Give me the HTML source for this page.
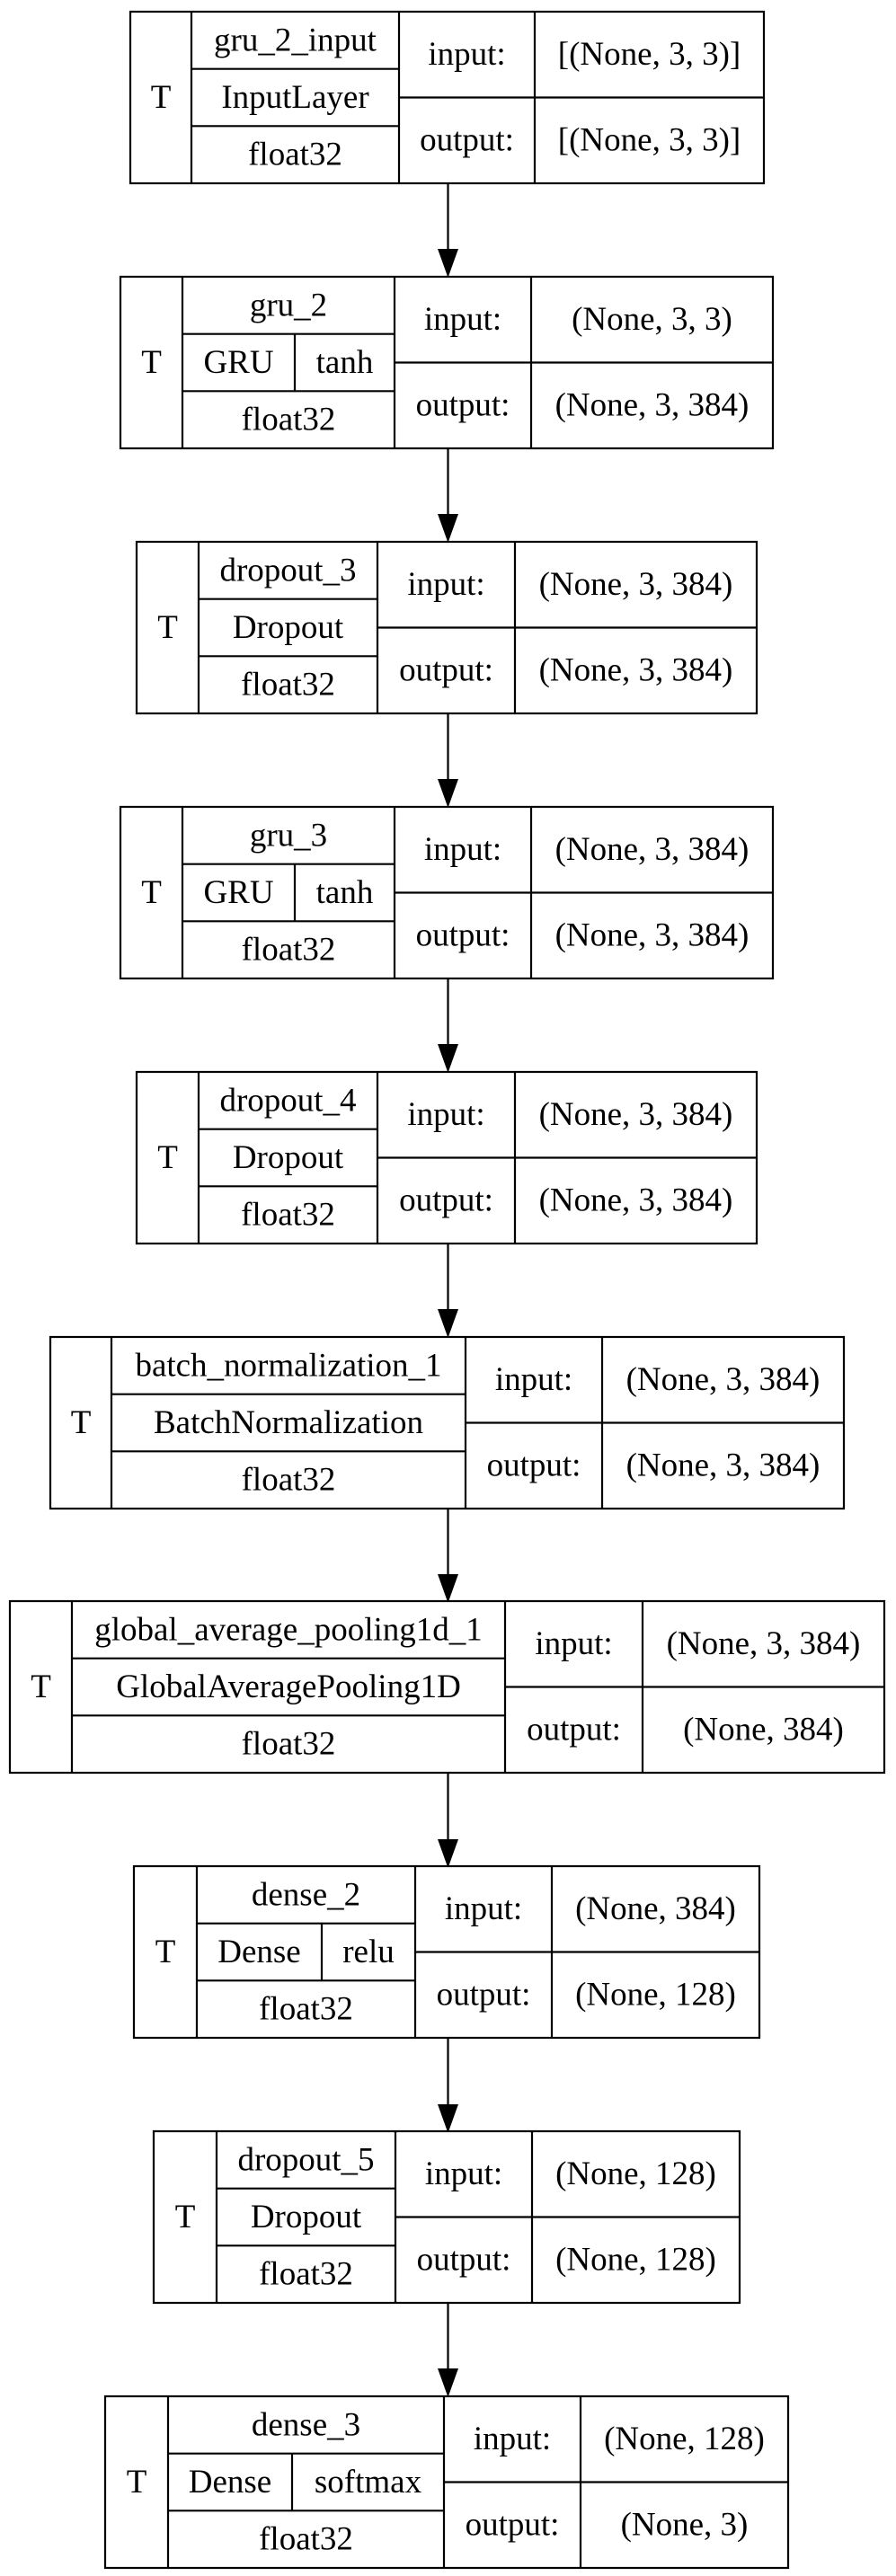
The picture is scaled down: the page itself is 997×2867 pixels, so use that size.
<!DOCTYPE html>
<html><head><meta charset="utf-8"><style>
html,body{margin:0;padding:0;background:#fff;}
svg{display:block;}
text{font-family:"Liberation Serif",serif;font-size:37px;fill:#000;text-anchor:middle;dominant-baseline:central;}
.b{fill:#fff;stroke:#000;stroke-width:2.2;}
.l{stroke:#000;stroke-width:2.2;}
</style></head><body>
<svg width="997" height="2867" viewBox="0 0 997 2867" xmlns="http://www.w3.org/2000/svg">
<!-- arrows -->
<g class="l">
<line x1="498.5" y1="204" x2="498.5" y2="280"/>
<line x1="498.5" y1="499" x2="498.5" y2="575"/>
<line x1="498.5" y1="794" x2="498.5" y2="870"/>
<line x1="498.5" y1="1089" x2="498.5" y2="1165"/>
<line x1="498.5" y1="1384" x2="498.5" y2="1460"/>
<line x1="498.5" y1="1679" x2="498.5" y2="1755"/>
<line x1="498.5" y1="1974" x2="498.5" y2="2050"/>
<line x1="498.5" y1="2269" x2="498.5" y2="2345"/>
<line x1="498.5" y1="2564" x2="498.5" y2="2640"/>
</g>
<g fill="#000">
<polygon points="487,277 510,277 498.5,309"/>
<polygon points="487,572 510,572 498.5,604"/>
<polygon points="487,867 510,867 498.5,899"/>
<polygon points="487,1162 510,1162 498.5,1194"/>
<polygon points="487,1457 510,1457 498.5,1489"/>
<polygon points="487,1752 510,1752 498.5,1784"/>
<polygon points="487,2047 510,2047 498.5,2079"/>
<polygon points="487,2342 510,2342 498.5,2374"/>
<polygon points="487,2636 510,2636 498.5,2668"/>
</g>

<!-- node 1 -->
<g transform="translate(0,13)">
<rect class="b" x="145" y="0" width="705" height="191"/>
<g class="l"><line x1="213" y1="0" x2="213" y2="191"/><line x1="444" y1="0" x2="444" y2="191"/><line x1="595" y1="0" x2="595" y2="191"/>
<line x1="213" y1="63.7" x2="444" y2="63.7"/><line x1="213" y1="127.3" x2="444" y2="127.3"/><line x1="444" y1="95.5" x2="850" y2="95.5"/></g>
<text x="179" y="95.5">T</text><text x="328.5" y="31.8">gru_2_input</text><text x="328.5" y="95.5">InputLayer</text><text x="328.5" y="159.2">float32</text>
<text x="519.5" y="47.7">input:</text><text x="519.5" y="143.2">output:</text><text x="722.5" y="47.7">[(None, 3, 3)]</text><text x="722.5" y="143.2">[(None, 3, 3)]</text>
</g>

<!-- node 2 -->
<g transform="translate(0,308)">
<rect class="b" x="134" y="0" width="726" height="191"/>
<g class="l"><line x1="203" y1="0" x2="203" y2="191"/><line x1="439" y1="0" x2="439" y2="191"/><line x1="591" y1="0" x2="591" y2="191"/>
<line x1="203" y1="63.7" x2="439" y2="63.7"/><line x1="203" y1="127.3" x2="439" y2="127.3"/><line x1="328" y1="63.7" x2="328" y2="127.3"/><line x1="439" y1="95.5" x2="860" y2="95.5"/></g>
<text x="168.5" y="95.5">T</text><text x="321" y="31.8">gru_2</text><text x="265.5" y="95.5">GRU</text><text x="383.5" y="95.5">tanh</text><text x="321" y="159.2">float32</text>
<text x="515" y="47.7">input:</text><text x="515" y="143.2">output:</text><text x="725.5" y="47.7">(None, 3, 3)</text><text x="725.5" y="143.2">(None, 3, 384)</text>
</g>

<!-- node 3 -->
<g transform="translate(0,603)">
<rect class="b" x="152" y="0" width="690" height="191"/>
<g class="l"><line x1="221" y1="0" x2="221" y2="191"/><line x1="420" y1="0" x2="420" y2="191"/><line x1="573" y1="0" x2="573" y2="191"/>
<line x1="221" y1="63.7" x2="420" y2="63.7"/><line x1="221" y1="127.3" x2="420" y2="127.3"/><line x1="420" y1="95.5" x2="842" y2="95.5"/></g>
<text x="186.5" y="95.5">T</text><text x="320.5" y="31.8">dropout_3</text><text x="320.5" y="95.5">Dropout</text><text x="320.5" y="159.2">float32</text>
<text x="496.5" y="47.7">input:</text><text x="496.5" y="143.2">output:</text><text x="707.5" y="47.7">(None, 3, 384)</text><text x="707.5" y="143.2">(None, 3, 384)</text>
</g>

<!-- node 4 -->
<g transform="translate(0,898)">
<rect class="b" x="134" y="0" width="726" height="191"/>
<g class="l"><line x1="203" y1="0" x2="203" y2="191"/><line x1="439" y1="0" x2="439" y2="191"/><line x1="591" y1="0" x2="591" y2="191"/>
<line x1="203" y1="63.7" x2="439" y2="63.7"/><line x1="203" y1="127.3" x2="439" y2="127.3"/><line x1="328" y1="63.7" x2="328" y2="127.3"/><line x1="439" y1="95.5" x2="860" y2="95.5"/></g>
<text x="168.5" y="95.5">T</text><text x="321" y="31.8">gru_3</text><text x="265.5" y="95.5">GRU</text><text x="383.5" y="95.5">tanh</text><text x="321" y="159.2">float32</text>
<text x="515" y="47.7">input:</text><text x="515" y="143.2">output:</text><text x="725.5" y="47.7">(None, 3, 384)</text><text x="725.5" y="143.2">(None, 3, 384)</text>
</g>

<!-- node 5 -->
<g transform="translate(0,1193)">
<rect class="b" x="152" y="0" width="690" height="191"/>
<g class="l"><line x1="221" y1="0" x2="221" y2="191"/><line x1="420" y1="0" x2="420" y2="191"/><line x1="573" y1="0" x2="573" y2="191"/>
<line x1="221" y1="63.7" x2="420" y2="63.7"/><line x1="221" y1="127.3" x2="420" y2="127.3"/><line x1="420" y1="95.5" x2="842" y2="95.5"/></g>
<text x="186.5" y="95.5">T</text><text x="320.5" y="31.8">dropout_4</text><text x="320.5" y="95.5">Dropout</text><text x="320.5" y="159.2">float32</text>
<text x="496.5" y="47.7">input:</text><text x="496.5" y="143.2">output:</text><text x="707.5" y="47.7">(None, 3, 384)</text><text x="707.5" y="143.2">(None, 3, 384)</text>
</g>

<!-- node 6 -->
<g transform="translate(0,1488)">
<rect class="b" x="56" y="0" width="883" height="191"/>
<g class="l"><line x1="124" y1="0" x2="124" y2="191"/><line x1="518" y1="0" x2="518" y2="191"/><line x1="670" y1="0" x2="670" y2="191"/>
<line x1="124" y1="63.7" x2="518" y2="63.7"/><line x1="124" y1="127.3" x2="518" y2="127.3"/><line x1="518" y1="95.5" x2="939" y2="95.5"/></g>
<text x="90" y="95.5">T</text><text x="321" y="31.8">batch_normalization_1</text><text x="321" y="95.5">BatchNormalization</text><text x="321" y="159.2">float32</text>
<text x="594" y="47.7">input:</text><text x="594" y="143.2">output:</text><text x="804.5" y="47.7">(None, 3, 384)</text><text x="804.5" y="143.2">(None, 3, 384)</text>
</g>

<!-- node 7 -->
<g transform="translate(0,1782)">
<rect class="b" x="11" y="0" width="973" height="191"/>
<g class="l"><line x1="80" y1="0" x2="80" y2="191"/><line x1="562" y1="0" x2="562" y2="191"/><line x1="715" y1="0" x2="715" y2="191"/>
<line x1="80" y1="63.7" x2="562" y2="63.7"/><line x1="80" y1="127.3" x2="562" y2="127.3"/><line x1="562" y1="95.5" x2="984" y2="95.5"/></g>
<text x="45.5" y="95.5">T</text><text x="321" y="31.8">global_average_pooling1d_1</text><text x="321" y="95.5">GlobalAveragePooling1D</text><text x="321" y="159.2">float32</text>
<text x="638.5" y="47.7">input:</text><text x="638.5" y="143.2">output:</text><text x="849.5" y="47.7">(None, 3, 384)</text><text x="849.5" y="143.2">(None, 384)</text>
</g>

<!-- node 8 -->
<g transform="translate(0,2077)">
<rect class="b" x="149" y="0" width="696" height="191"/>
<g class="l"><line x1="219" y1="0" x2="219" y2="191"/><line x1="462" y1="0" x2="462" y2="191"/><line x1="614" y1="0" x2="614" y2="191"/>
<line x1="219" y1="63.7" x2="462" y2="63.7"/><line x1="219" y1="127.3" x2="462" y2="127.3"/><line x1="358" y1="63.7" x2="358" y2="127.3"/><line x1="462" y1="95.5" x2="845" y2="95.5"/></g>
<text x="184" y="95.5">T</text><text x="340.5" y="31.8">dense_2</text><text x="288.5" y="95.5">Dense</text><text x="410" y="95.5">relu</text><text x="340.5" y="159.2">float32</text>
<text x="538" y="47.7">input:</text><text x="538" y="143.2">output:</text><text x="729.5" y="47.7">(None, 384)</text><text x="729.5" y="143.2">(None, 128)</text>
</g>

<!-- node 9 -->
<g transform="translate(0,2372)">
<rect class="b" x="171" y="0" width="652" height="191"/>
<g class="l"><line x1="241" y1="0" x2="241" y2="191"/><line x1="440" y1="0" x2="440" y2="191"/><line x1="592" y1="0" x2="592" y2="191"/>
<line x1="241" y1="63.7" x2="440" y2="63.7"/><line x1="241" y1="127.3" x2="440" y2="127.3"/><line x1="440" y1="95.5" x2="823" y2="95.5"/></g>
<text x="206" y="95.5">T</text><text x="340.5" y="31.8">dropout_5</text><text x="340.5" y="95.5">Dropout</text><text x="340.5" y="159.2">float32</text>
<text x="516" y="47.7">input:</text><text x="516" y="143.2">output:</text><text x="707.5" y="47.7">(None, 128)</text><text x="707.5" y="143.2">(None, 128)</text>
</g>

<!-- node 10 -->
<g transform="translate(0,2667)">
<rect class="b" x="117" y="0" width="760" height="191"/>
<g class="l"><line x1="187" y1="0" x2="187" y2="191"/><line x1="494" y1="0" x2="494" y2="191"/><line x1="646" y1="0" x2="646" y2="191"/>
<line x1="187" y1="63.7" x2="494" y2="63.7"/><line x1="187" y1="127.3" x2="494" y2="127.3"/><line x1="325" y1="63.7" x2="325" y2="127.3"/><line x1="494" y1="95.5" x2="877" y2="95.5"/></g>
<text x="152" y="95.5">T</text><text x="340.5" y="31.8">dense_3</text><text x="256" y="95.5">Dense</text><text x="409.5" y="95.5">softmax</text><text x="340.5" y="159.2">float32</text>
<text x="570" y="47.7">input:</text><text x="570" y="143.2">output:</text><text x="761.5" y="47.7">(None, 128)</text><text x="761.5" y="143.2">(None, 3)</text>
</g>
</svg>
</body></html>
